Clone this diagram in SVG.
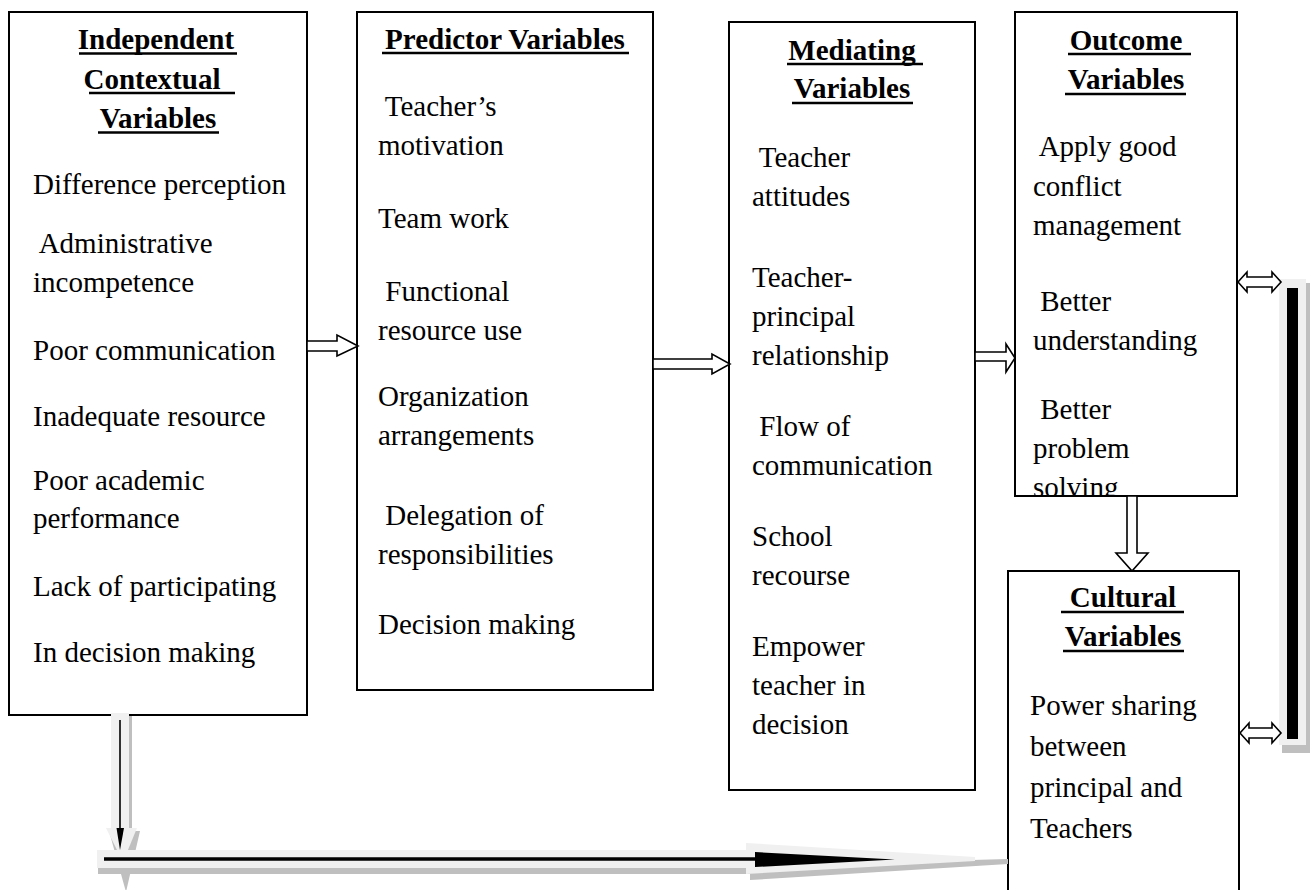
<svg xmlns="http://www.w3.org/2000/svg" width="1316" height="890" viewBox="0 0 1316 890">
  <style>
    .box { fill: #ffffff; stroke: #000000; stroke-width: 2; }
    .head { font-family: "Liberation Serif", "Times New Roman", serif; font-size: 29px; font-weight: bold; fill: #000000; text-anchor: middle; }
    .body { font-family: "Liberation Serif", "Times New Roman", serif; font-size: 29px; fill: #000000; }
    .body text { white-space: pre; }
    .ul { stroke: #000000; stroke-width: 2.3; }
    .hollow { fill: #ffffff; stroke: #000000; stroke-width: 1.6; stroke-linejoin: miter; }
    .lite { fill: #f0f0f0; }
    .shade { fill: #bfbfbf; }
  </style>
  <defs>
    <clipPath id="outcomeClip">
      <rect x="1015" y="12" width="222" height="484"/>
    </clipPath>
  </defs>

  <rect width="1316" height="890" fill="#ffffff"/>

  <!-- Independent contextual variables -->
  <g id="independent">
    <rect class="box" x="9" y="12" width="298" height="703"/>
    <text class="head" x="156" y="49">Independent</text>
    <line class="ul" x1="79" y1="53.5" x2="237" y2="53.5"/>
    <text class="head" x="152" y="89">Contextual</text>
    <line class="ul" x1="89" y1="93" x2="235" y2="93"/>
    <text class="head" x="158" y="128">Variables</text>
    <line class="ul" x1="98" y1="132.5" x2="219" y2="132.5"/>
    <g class="body">
      <text x="33" y="194">Difference perception</text>
      <text x="33" y="253" xml:space="preserve"> Administrative</text>
      <text x="33" y="292">incompetence</text>
      <text x="33" y="360">Poor communication</text>
      <text x="33" y="426">Inadequate resource</text>
      <text x="33" y="490">Poor academic</text>
      <text x="33" y="528">performance</text>
      <text x="33" y="596">Lack of participating</text>
      <text x="33" y="662">In decision making</text>
    </g>
  </g>

  <!-- Predictor variables -->
  <g id="predictor">
    <rect class="box" x="357" y="12" width="296" height="678"/>
    <text class="head" x="505" y="49">Predictor Variables</text>
    <line class="ul" x1="382" y1="53" x2="629" y2="53"/>
    <g class="body">
      <text x="378" y="116" xml:space="preserve"> Teacher’s</text>
      <text x="378" y="155">motivation</text>
      <text x="378" y="228">Team work</text>
      <text x="378" y="301" xml:space="preserve"> Functional</text>
      <text x="378" y="340">resource use</text>
      <text x="378" y="406">Organization</text>
      <text x="378" y="445">arrangements</text>
      <text x="378" y="525" xml:space="preserve"> Delegation of</text>
      <text x="378" y="564">responsibilities</text>
      <text x="378" y="634">Decision making</text>
    </g>
  </g>

  <!-- Mediating variables -->
  <g id="mediating">
    <rect class="box" x="729" y="22" width="246" height="768"/>
    <text class="head" x="852" y="60">Mediating</text>
    <line class="ul" x1="787" y1="64" x2="923" y2="64"/>
    <text class="head" x="852" y="98">Variables</text>
    <line class="ul" x1="792" y1="103" x2="913" y2="103"/>
    <g class="body">
      <text x="752" y="167" xml:space="preserve"> Teacher</text>
      <text x="752" y="206">attitudes</text>
      <text x="752" y="287">Teacher-</text>
      <text x="752" y="326">principal</text>
      <text x="752" y="365">relationship</text>
      <text x="752" y="436" xml:space="preserve"> Flow of</text>
      <text x="752" y="475">communication</text>
      <text x="752" y="546">School</text>
      <text x="752" y="585">recourse</text>
      <text x="752" y="656">Empower</text>
      <text x="752" y="695">teacher in</text>
      <text x="752" y="734">decision</text>
    </g>
  </g>

  <!-- Outcome variables -->
  <g id="outcome">
    <rect class="box" x="1015" y="12" width="222" height="484"/>
    <text class="head" x="1126" y="50">Outcome</text>
    <line class="ul" x1="1068" y1="54" x2="1191" y2="54"/>
    <text class="head" x="1126" y="89">Variables</text>
    <line class="ul" x1="1065" y1="94" x2="1186" y2="94"/>
    <g class="body" clip-path="url(#outcomeClip)">
      <text x="1033" y="156" xml:space="preserve"> Apply good</text>
      <text x="1033" y="196">conflict</text>
      <text x="1033" y="235">management</text>
      <text x="1033" y="311" xml:space="preserve"> Better</text>
      <text x="1033" y="350">understanding</text>
      <text x="1033" y="419" xml:space="preserve"> Better</text>
      <text x="1033" y="458">problem</text>
      <text x="1033" y="497">solving</text>
    </g>
  </g>

  <!-- Cultural variables (runs past the lower edge) -->
  <g id="cultural">
    <path class="box" d="M1008 892 V571 H1239 V892"/>
    <text class="head" x="1123" y="607">Cultural</text>
    <line class="ul" x1="1061" y1="612" x2="1184" y2="612"/>
    <text class="head" x="1123" y="646">Variables</text>
    <line class="ul" x1="1063" y1="651" x2="1184" y2="651"/>
    <g class="body">
      <text x="1030" y="715">Power sharing</text>
      <text x="1030" y="756">between</text>
      <text x="1030" y="797">principal and</text>
      <text x="1030" y="838">Teachers</text>
    </g>
  </g>

  <!-- Connectors -->
  <g id="connectors">
    <!-- block arrows between the columns -->
    <polygon class="hollow" points="307,341 337,341 337,335 358,346 337,356 337,351 307,351"/>
    <polygon class="hollow" points="653,359 712,359 712,354 730,364 712,374 712,369 653,369"/>
    <polygon class="hollow" points="975,352 1006,352 1006,344 1015,358 1006,372 1006,361 975,361"/>
    <!-- outcome down to cultural -->
    <polygon class="hollow" points="1127,496 1137,496 1137,553 1148,553 1132,571 1116,553 1127,553"/>

    <!-- side feedback bar with two-headed links -->
    <rect class="shade" x="1282" y="283" width="28" height="470"/>
    <rect class="lite" x="1279" y="279" width="27" height="466"/>
    <rect x="1287" y="288" width="11" height="451" fill="#000000"/>
    <polygon class="hollow" points="1238,282 1247,272 1247,277 1272,277 1272,272 1281,282 1272,292 1272,287 1247,287 1247,292"/>
    <polygon class="hollow" points="1240,733 1249,723 1249,728 1272,728 1272,723 1281,733 1272,743 1272,738 1249,738 1249,743"/>

    <!-- long shadowed arrow along the bottom -->
    <polygon class="shade" points="109,831 140,831 126,892"/>
    <rect class="shade" x="129" y="716" width="3" height="114"/>
    <rect class="lite" x="111" y="713" width="18" height="116"/>
    <polygon class="lite" points="106,828 137,828 123,862"/>
    <rect class="shade" x="98" y="866" width="652" height="8"/>
    <polygon class="shade" points="750,866 750,880 1008,864 1008,859"/>
    <rect class="lite" x="97" y="850" width="652" height="18"/>
    <polygon class="lite" points="746,843 746,874 975,861 975,857"/>
    <line x1="120" y1="720" x2="120" y2="830" stroke="#000000" stroke-width="1.6"/>
    <polygon points="116.5,828 124,828 120,850" fill="#000000"/>
    <line x1="104" y1="859" x2="760" y2="859" stroke="#000000" stroke-width="3.3"/>
    <polygon points="755,852 755,867 895,859.5" fill="#000000"/>
  </g>
</svg>
